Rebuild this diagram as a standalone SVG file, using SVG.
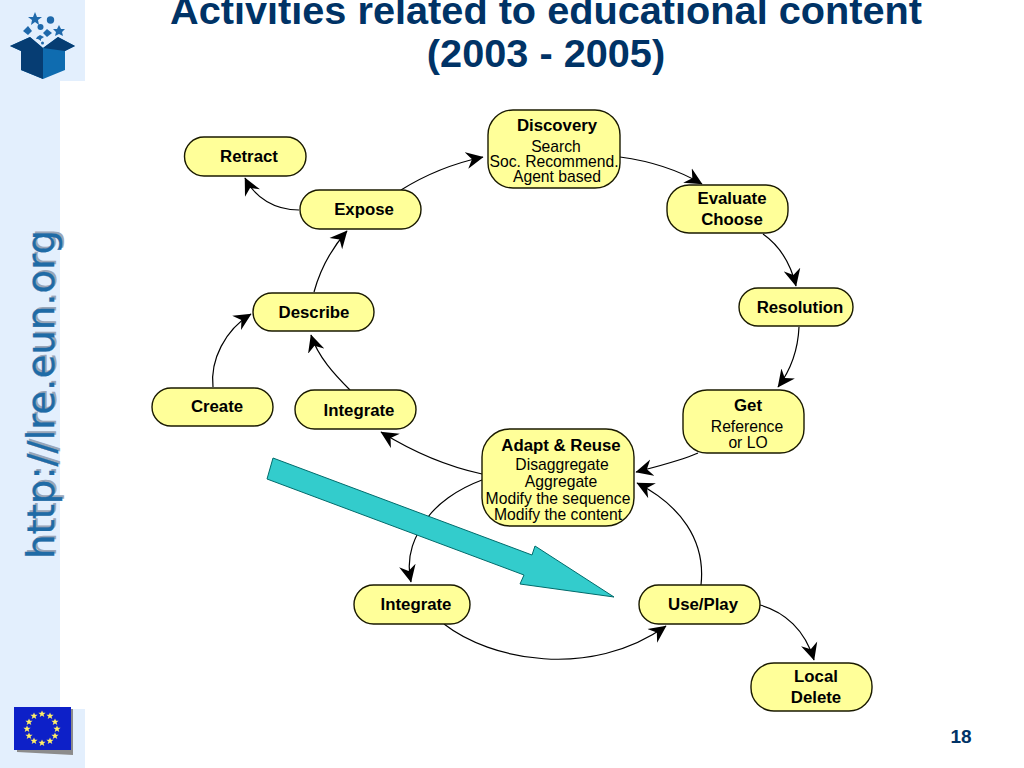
<svg xmlns="http://www.w3.org/2000/svg" width="1024" height="768" viewBox="0 0 1024 768">
<defs>
<marker id="arr" markerUnits="userSpaceOnUse" markerWidth="18" markerHeight="18" refX="15" refY="8" orient="auto" viewBox="0 0 16 16"><path d="M0 .5L15.500 8L0 15.500L5 8Z" fill="#000"/></marker>
<path id="star" d="M0-3.600L1-1.200 3.600-1.200 1.500.5 2.300 3.100 0 1.600-2.300 3.100-1.500.5-3.600-1.200-1-1.200Z" fill="#ffee66"/>
</defs>
<style>
.n{fill:#ffff99;stroke:#1a1a00;stroke-width:1.4}
.t{font-family:"Liberation Sans",Arial,sans-serif;font-size:16.800px;font-weight:bold;text-anchor:middle;fill:#000}
.s{font-family:"Liberation Sans",Arial,sans-serif;font-size:15.700px;text-anchor:middle;fill:#000}
.c{fill:none;stroke:#000;stroke-width:1.2;marker-end:url(#arr)}
.h{font-family:"Liberation Sans",Arial,sans-serif;font-size:39.700px;font-weight:bold;text-anchor:middle;fill:#003366}
.u{font-family:"DejaVu Sans",sans-serif;font-size:37px}
</style>
<rect width="1024" height="768" fill="#fff"/>
<g id="sidebar">
<path d="M0 0H85V81H60V709H85V768H0Z" fill="#e3effd"/>
<text class="u" transform="translate(56 557) rotate(-90)" fill="#9aa6b8" textLength="329" lengthAdjust="spacingAndGlyphs">http://lre.eun.org</text>
<text class="u" transform="translate(54 559) rotate(-90)" fill="#1f6ba6" stroke="#1f6ba6" stroke-width=".3" textLength="329" lengthAdjust="spacingAndGlyphs">http://lre.eun.org</text>
</g>
<g id="logo">
<path d="M21 51L10 46 30 37 43 48 58 37 75 46 65 51V70L43 79 21 70Z" fill="#0f6cb0"/>
<path d="M21 51L10 46 30 37 43 48V79L21 70Z" fill="#063d73"/>
<path d="M43 48L58 37 75 46 65 51 43 48Z" fill="#063d73"/>
<path d="M35 12L37 17 42 17 38 20 39 25 35 22 31 25 32 20 28 17 33 17ZM59 25L61 29 65 29 62 32 63 36 59 34 55 36 56 32 53 29 57 29Z" fill="#1f69ab"/>
<circle cx="50.500" cy="20" r="3.700" fill="#1f69ab"/><circle cx="40.500" cy="27" r="3" fill="#1f69ab"/>
<path d="M28 26L32 31 28 35 23 31ZM47 29L52 33 47 37 43 33ZM40 35L44 37 41 39 41 41 38 39 36 39 37 37Z" fill="#1f69ab"/><circle cx="42.500" cy="43" r="1.500" fill="#1f69ab"/>
</g>
<g id="flag">
<path d="M17 709H73V755L17 752Z" fill="#8c8c8c"/>
<rect x="14" y="707" width="57" height="43" fill="#0d20c8"/>
<g id="stars">
<use href="#star" x="42" y="714"/><use href="#star" x="50" y="716"/><use href="#star" x="55" y="722"/><use href="#star" x="57" y="729"/><use href="#star" x="55" y="736"/><use href="#star" x="50" y="741"/><use href="#star" x="42" y="743"/><use href="#star" x="34" y="741"/><use href="#star" x="29" y="736"/><use href="#star" x="27" y="729"/><use href="#star" x="29" y="722"/><use href="#star" x="34" y="716"/>
</g>
</g>
<g id="title">
<text class="h" x="546" y="24">Activities related to educational content</text>
<text class="h" x="546" y="67">(2003 - 2005)</text>
</g>
<g id="connectors">
<path class="c" d="M401 190C425 175 455 163 483 157"/>
<path class="c" d="M620 157C650 161 680 171 702 184"/>
<path class="c" d="M763 234C780 246 791 265 796 286"/>
<path class="c" d="M799 327C798 350 790 371 778 387"/>
<path class="c" d="M698 453C680 461 655 467 636 472"/>
<path class="c" d="M482 474C445 466 410 450 381 432"/>
<path class="c" d="M482 480C455 490 437 505 428 517C415 535 405 555 411 582"/>
<path class="c" d="M444 624C490 660 590 680 666 626"/>
<path class="c" d="M701 585C706 540 680 505 637 483"/>
<path class="c" d="M760 605C785 612 805 630 814 660"/>
<path class="c" d="M350 390C335 375 318 357 311 335"/>
<path class="c" d="M213 387C210 360 225 330 251 314"/>
<path class="c" d="M314 292C320 270 332 248 347 231"/>
<path class="c" d="M299 210C275 210 255 198 245 178"/>
</g>
<g id="bigarrow"><path d="M273 458L532 555 535 546 614 597 520 584 524 575 267 479Z" fill="#33cccc" stroke="#006b6b" stroke-width="1"/></g>
<g id="discovery"><rect class="n" x="488" y="110" width="132" height="78" rx="25"/><text class="t" x="557" y="131">Discovery</text><text class="s" x="556" y="152">Search</text><text class="s" x="554" y="167">Soc. Recommend.</text><text class="s" x="557" y="182">Agent based</text></g>
<g id="retract"><rect class="n" x="184.500" y="137" width="121.500" height="39" rx="19.500"/><text class="t" x="249" y="162">Retract</text></g>
<g id="expose"><rect class="n" x="300" y="190" width="121" height="39" rx="19.500"/><text class="t" x="364" y="215">Expose</text></g>
<g id="evaluate"><rect class="n" x="667" y="185" width="121" height="48" rx="22"/><text class="t" x="732" y="204">Evaluate</text><text class="t" x="732" y="225">Choose</text></g>
<g id="resolution"><rect class="n" x="739" y="288" width="114" height="38" rx="19"/><text class="t" x="800" y="313">Resolution</text></g>
<g id="describe"><rect class="n" x="253" y="293" width="121" height="38" rx="19"/><text class="t" x="314" y="318">Describe</text></g>
<g id="create"><rect class="n" x="152" y="388" width="121" height="38" rx="19"/><text class="t" x="217" y="412">Create</text></g>
<g id="integrate1"><rect class="n" x="295" y="390" width="121" height="39" rx="19.500"/><text class="t" x="359" y="416">Integrate</text></g>
<g id="get"><rect class="n" x="683" y="390" width="121" height="63" rx="24"/><text class="t" x="748" y="411">Get</text><text class="s" x="747" y="432">Reference</text><text class="s" x="748" y="448">or LO</text></g>
<g id="adapt"><rect class="n" x="482" y="429" width="152" height="97" rx="28"/><text class="t" x="561" y="451">Adapt &amp; Reuse</text><text class="s" x="562" y="470">Disaggregate</text><text class="s" x="561" y="487">Aggregate</text><text class="s" x="558" y="504">Modify the sequence</text><text class="s" x="558" y="520">Modify the content</text></g>
<g id="integrate2"><rect class="n" x="354" y="585" width="116" height="39" rx="19.500"/><text class="t" x="416" y="610">Integrate</text></g>
<g id="useplay"><rect class="n" x="639" y="585" width="121" height="39" rx="19.500"/><text class="t" x="703" y="610">Use/Play</text></g>
<g id="localdelete"><rect class="n" x="751" y="663" width="121" height="48" rx="23"/><text class="t" x="816" y="682">Local</text><text class="t" x="816" y="703">Delete</text></g>
<text id="page" x="961" y="743" font-family="Liberation Sans,sans-serif" font-size="19" font-weight="bold" fill="#003366" text-anchor="middle">18</text>
</svg>
